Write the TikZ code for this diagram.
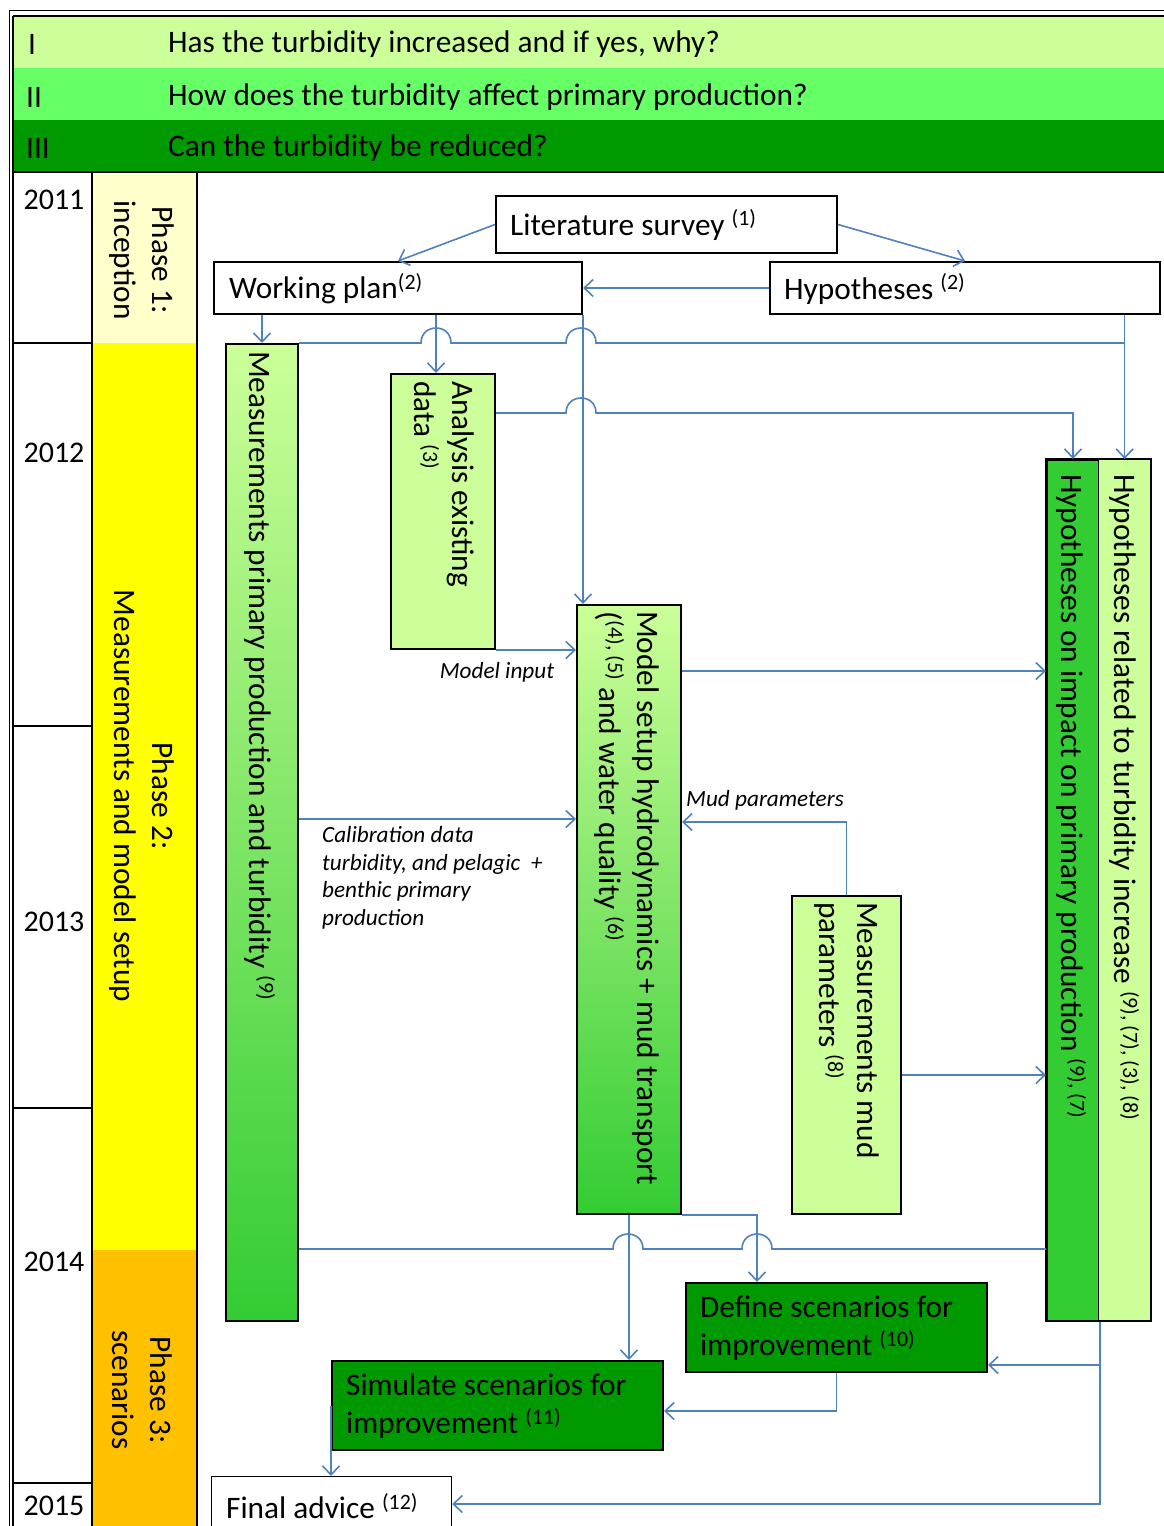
\documentclass[tikz,border=0pt]{standalone}
\usepackage{fontspec}
\setmainfont{Carlito}
\usetikzlibrary{arrows.meta,calc}
\definecolor{lgreen}{HTML}{CCFF99}
\definecolor{mgreen}{HTML}{66FF66}
\definecolor{dgreen}{HTML}{009900}
\definecolor{bgreen}{HTML}{33CC33}
\definecolor{pyellow}{HTML}{FFFFCC}
\definecolor{yel}{HTML}{FFFF00}
\definecolor{orng}{HTML}{FFC000}
\definecolor{lineblue}{HTML}{4F81BD}
\newcommand\mainsz{\fontsize{31.3}{38}\selectfont}
\newcommand\labsz{\fontsize{23.2}{27.7}\selectfont\itshape}
\tikzset{
  box/.style={draw=black, line width=2pt, inner sep=0pt, anchor=north west},
  sz/.style 2 args={minimum width=#1pt, minimum height=#2pt},
  cell/.style={inner sep=0pt, anchor=north west, draw=none},
  txt/.style={inner sep=0pt, font=\mainsz, text=black},
  lab/.style={inner sep=0pt, font=\labsz, text=black},
  conn/.style={draw=lineblue, line width=1.6pt},
  arr/.style={-{Straight Barb[length=9pt,width=17pt]}},
}
\begin{document}
\begin{tikzpicture}[x=1pt,y=-1pt]
\useasboundingbox (0,0) rectangle (1163,1526);
% header rows
\node[cell, fill=lgreen, sz={1160}{51}] (row1) at (13,17) {};
\node[cell, fill=mgreen, sz={1160}{52}] (row2) at (13,68) {};
\node[cell, fill=dgreen, sz={1160}{52}] (row3) at (13,120) {};
\node[txt, anchor=west] (r1n) at (28,44) {I};
\node[txt, anchor=west] (r2n) at (26,97) {II};
\node[txt, anchor=west] (r3n) at (26,148) {III};
\node[txt, anchor=west] (q1) at (168,44) {Has the turbidity increased and if yes, why?};
\node[txt, anchor=west] (q2) at (168,97) {How does the turbidity affect primary production?};
\node[txt, anchor=west] (q3) at (168,148) {Can the turbidity be reduced?};
% phase column
\node[cell, fill=pyellow, sz={105}{171}] (ph1) at (92,172) {};
\node[cell, fill=yel, sz={105}{907}] (ph2) at (92,343) {};
\node[cell, fill=orng, sz={105}{290}] (ph3) at (92,1250) {};
\node[txt, rotate=-90, align=center] (ph1t) at (142,260) {Phase 1:\\inception};
\node[txt, rotate=-90, align=center] (ph2t) at (142,796) {Phase 2:\\Measurements and model setup};
\node[txt, rotate=-90, align=center] (ph3t) at (142,1390) {Phase 3:\\scenarios};
% frame lines
\draw[line width=1pt] (9,10) -- (1175,10);
\draw[line width=1pt] (9,10) -- (9,1540);
\draw[line width=2pt] (13,16) -- (1175,16);
\draw[line width=2pt] (13,16) -- (13,1540);
\draw[line width=2pt] (13,172) -- (1175,172);
\draw[line width=2pt] (92,172) -- (92,1540);
\draw[line width=2pt] (197,172) -- (197,1540);
\draw[line width=2pt] (13,343) -- (92,343);
\draw[line width=1.5pt] (13,726) -- (92,726);
\draw[line width=2pt] (13,1108) -- (92,1108);
\draw[line width=2pt] (13,1483) -- (92,1483);
% years
\node[txt, font=\fontsize{30}{36}\selectfont] (y11) at (54,200) {2011};
\node[txt, font=\fontsize{30}{36}\selectfont] (y12) at (54,453) {2012};
\node[txt, font=\fontsize{30}{36}\selectfont] (y13) at (54,922) {2013};
\node[txt, font=\fontsize{30}{36}\selectfont] (y14) at (54,1262) {2014};
\node[txt, font=\fontsize{30}{36}\selectfont] (y15) at (54,1506) {2015};
% boxes
\node[box, fill=white, sz={341}{57}] (lit) at (495,195) {};
\node[txt, anchor=west] (litt) at (510,225) {Literature survey \textsuperscript{(1)}};
\node[box, fill=white, sz={368}{52}] (wp) at (213,261) {};
\node[txt, anchor=west] (wpt) at (229,289) {Working plan\textsuperscript{(2)}};
\node[box, fill=white, sz={390}{52}] (hyp) at (769,261) {};
\node[txt, anchor=west] (hypt) at (784,289) {Hypotheses \textsuperscript{(2)}};
\node[box, top color=lgreen, bottom color=bgreen, sz={72}{977}] (meas) at (225,343) {};
\node[txt, rotate=-90, anchor=west] (meast) at (260,351) {Measurements primary production and turbidity \textsuperscript{(9)}};
\node[box, fill=lgreen, sz={104}{275}] (ana) at (390,373) {};
\node[txt, rotate=-90, anchor=north west, align=left] (anat) at (474,381) {Analysis existing\\data \textsuperscript{(3)}};
\node[box, top color=lgreen, bottom color=bgreen, sz={104}{609}] (model) at (576,604) {};
\node[txt, rotate=-90, anchor=north west, align=left] (modelt) at (659,611) {Model setup hydrodynamics + mud transport\\(\textsuperscript{(4), (5)} and water quality \textsuperscript{(6)}};
\node[box, fill=lgreen, sz={109}{318}] (mud) at (791,895) {};
\node[txt, rotate=-90, anchor=north west, align=left] (mudt) at (879,902) {Measurements mud\\parameters \textsuperscript{(8)}};
\node[box, fill=bgreen, sz={52}{861}] (hd) at (1046,459) {};
\node[box, fill=lgreen, sz={52}{861}, line width=1.2pt] (hr) at (1098,459) {};
\draw[line width=2pt] (hd.north west) rectangle (hr.south east);
\node[txt, rotate=-90, anchor=west] (hdt) at (1071,474) {Hypotheses on impact on primary production \textsuperscript{(9), (7)}};
\node[txt, rotate=-90, anchor=west] (hrt) at (1124,474) {Hypotheses related to turbidity increase \textsuperscript{(9), (7), (3), (8)}};
\node[box, fill=dgreen, sz={301}{89}] (def) at (685,1282) {};
\node[txt, anchor=west, align=left] (deft) at (700,1328) {Define scenarios for\\improvement \textsuperscript{(10)}};
\node[box, fill=dgreen, sz={331}{89}] (sim) at (331,1360) {};
\node[txt, anchor=west, align=left] (simt) at (346,1406) {Simulate scenarios for\\improvement \textsuperscript{(11)}};
\node[box, fill=white, sz={240}{80}, line width=1.2pt] (final) at (211,1476) {};
\node[txt, anchor=west] (finalt) at (226,1506) {Final advice \textsuperscript{(12)}};
% labels
\node[lab] (lmi) at (497,672) {Model input};
\node[lab] (lmp) at (765,800) {Mud parameters};
\node[lab, anchor=north west, align=left] (lcal) at (322,826) {Calibration data\\turbidity, and pelagic\ \ +\\benthic primary\\production};
% helper coordinates
\coordinate (x436) at (436,0);
\coordinate (x757) at (757,0);
\coordinate (y413) at (0,413);
\coordinate (y670) at (0,671);
\coordinate (y818) at (0,819);
\coordinate (y822) at (0,822);
\coordinate (y1075) at (0,1075);
\coordinate (y1249) at (0,1249);
\coordinate (y1365) at (0,1365);
\coordinate (y1411) at (0,1411);
\coordinate (y1504) at (0,1504);
% connectors
\draw[conn, arr] (lit.west) -- (wp.north);
\draw[conn, arr] (lit.east) -- (hyp.north);
\draw[conn, arr] (hyp.west) -- (wp.east);
\draw[conn, arr] (wp.south -| meas.north) -- (meas.north);
\draw[conn, arr] (wp.south -| x436) -- (ana.north -| x436);
\draw[conn, arr] (wp.south east) -- (wp.south east |- model.north);
\draw[conn] (meas.north east) -- (421,343) .. controls (421,323) and (451,323) .. (451,343)
  -- (566,343) .. controls (566,323) and (596,323) .. (596,343) -- (hr.north |- meas.north);
\draw[conn, arr] (hyp.south -| hr.north) -- (hr.north);
\draw[conn, arr] (ana.east |- y413) -- (566,413) .. controls (566,393) and (596,393) .. (596,413)
  -- (hd.north |- y413) -- (hd.north);
\draw[conn, arr] (ana.south east) -- (model.west |- ana.south east);
\draw[conn, arr] (model.east |- y670) -- (hd.west |- y670);
\draw[conn, arr] (meas.east |- y818) -- (model.west |- y818);
\draw[conn, arr] (mud.north) -- (mud.north |- y822) -- (model.east |- y822);
\draw[conn, arr] (mud.east |- y1075) -- (hd.west |- y1075);
\draw[conn] (meas.east |- y1249) -- (613,1249) .. controls (613,1229) and (643,1229) .. (643,1249)
  -- (742,1249) .. controls (742,1229) and (772,1229) .. (772,1249) -- (hd.west |- y1249);
\draw[conn, arr] (model.south) -- (model.south |- sim.north);
\draw[conn, arr] (model.south east) -- (model.south east -| x757) -- (def.north -| x757);
\draw[conn, arr] (hd.south east) -- (hd.south east |- y1504) -- (final.east |- y1504);
\draw[conn, arr] (hd.south east |- y1365) -- (def.east |- y1365);
\draw[conn, arr] (def.south) -- (def.south |- y1411) -- (sim.east |- y1411);
\draw[conn, arr] (sim.west) -- (sim.west |- final.north);
\end{tikzpicture}
\end{document}
